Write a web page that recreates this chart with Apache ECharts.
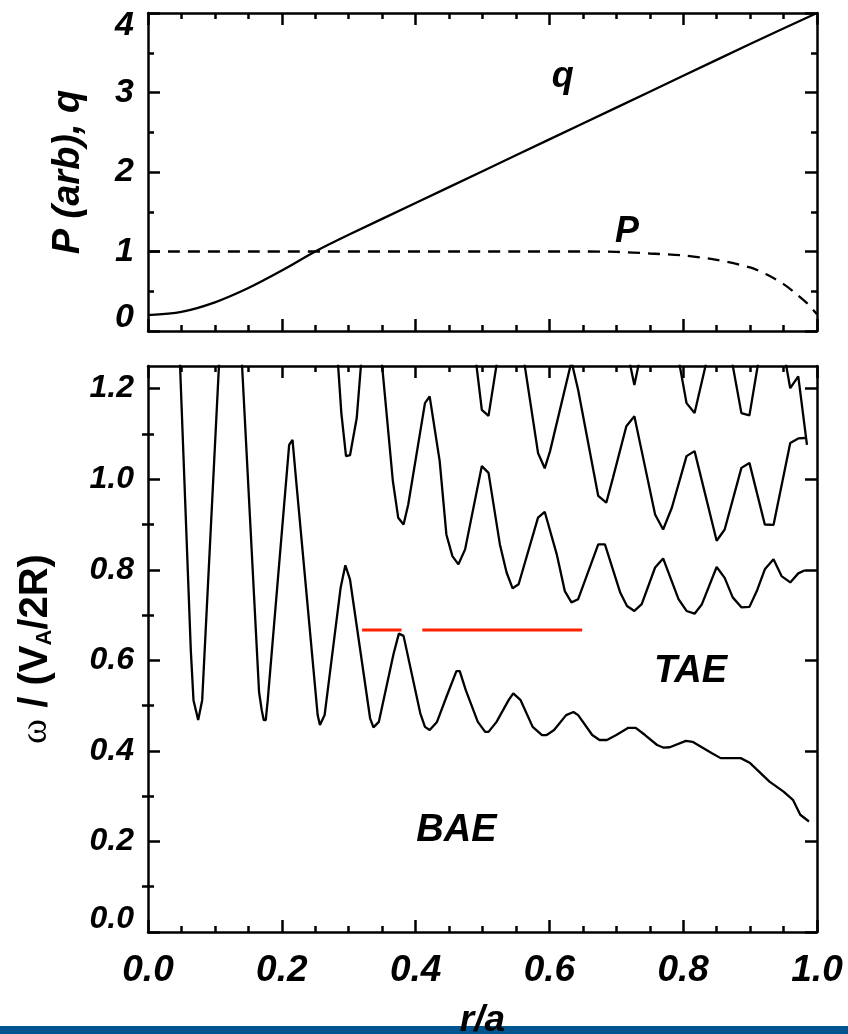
<!DOCTYPE html>
<html>
<head>
<meta charset="utf-8">
<script src="https://cdn.jsdelivr.net/npm/echarts@6/dist/echarts.min.js"></script>
<style>html,body{margin:0;padding:0;background:#fff}#c{width:848px;height:1034px}</style>
</head>
<body>
<div id="c"></div>
<script>
// ---------- DATA ----------
// Top panel: r/a, q and P (arb)
const qProfile = [[0,0.20],[0.05,0.24],[0.10,0.36],[0.15,0.54],[0.20,0.76],[0.25,1.00],[0.30,1.21],[0.40,1.61],[0.50,2.01],[0.60,2.41],[0.70,2.81],[0.80,3.21],[0.90,3.61],[1.00,4.00]];
const pProfile = [[0,1.0],[0.65,1.0],[0.70,0.995],[0.75,0.975],[0.80,0.95],[0.85,0.895],[0.90,0.80],[0.925,0.71],[0.95,0.59],[0.97,0.46],[0.985,0.35],[1.0,0.21]];
// Bottom panel: continuum branches (r/a, omega/(VA/2R))
const branchLow = [[0.040,1.56],[0.064,0.622],[0.068,0.512],[0.075,0.468],[0.081,0.512],[0.123,1.75],[0.166,0.53],[0.170,0.49],[0.173,0.468],[0.176,0.468],[0.179,0.512],[0.211,1.076],[0.216,1.087],[0.222,0.988],[0.2536,0.479],[0.257,0.457],[0.264,0.479],[0.288,0.761],[0.295,0.81],[0.302,0.778],[0.332,0.472],[0.337,0.452],[0.345,0.464],[0.367,0.614],[0.375,0.659],[0.382,0.654],[0.407,0.483],[0.414,0.453],[0.421,0.446],[0.432,0.464],[0.446,0.519],[0.461,0.576],[0.466,0.576],[0.475,0.534],[0.493,0.464],[0.504,0.442],[0.509,0.442],[0.521,0.464],[0.539,0.512],[0.546,0.527],[0.557,0.512],[0.575,0.453],[0.589,0.435],[0.596,0.435],[0.607,0.446],[0.625,0.479],[0.636,0.486],[0.643,0.479],[0.664,0.435],[0.675,0.424],[0.686,0.424],[0.700,0.435],[0.718,0.451],[0.729,0.451],[0.743,0.435],[0.761,0.413],[0.771,0.407],[0.780,0.408],[0.804,0.422],[0.814,0.420],[0.843,0.395],[0.856,0.384],[0.886,0.384],[0.900,0.373],[0.929,0.332],[0.950,0.310],[0.964,0.292],[0.975,0.259],[0.988,0.244]];
const branchC = [[0.281,1.32],[0.289,1.146],[0.296,1.051],[0.302,1.053],[0.312,1.135],[0.322,1.32]];
const branchD = [[0.345,1.33],[0.366,0.996],[0.374,0.915],[0.382,0.900],[0.389,0.944],[0.414,1.168],[0.421,1.183],[0.436,1.040],[0.446,0.878],[0.455,0.830],[0.464,0.812],[0.474,0.845],[0.499,1.029],[0.509,1.014],[0.526,0.856],[0.536,0.794],[0.545,0.759],[0.554,0.768],[0.583,0.915],[0.593,0.928],[0.611,0.834],[0.623,0.753],[0.633,0.728],[0.643,0.735],[0.673,0.856],[0.683,0.856],[0.706,0.749],[0.716,0.720],[0.727,0.709],[0.738,0.724],[0.758,0.805],[0.770,0.825],[0.793,0.735],[0.805,0.709],[0.817,0.703],[0.828,0.724],[0.850,0.806],[0.862,0.782],[0.874,0.739],[0.887,0.717],[0.899,0.718],[0.910,0.753],[0.922,0.801],[0.935,0.823],[0.947,0.786],[0.960,0.772],[0.972,0.792],[0.982,0.799]];
const branchE = [[0.487,1.30],[0.499,1.153],[0.509,1.140],[0.525,1.29]];
const branchF = [[0.555,1.33],[0.583,1.058],[0.593,1.024],[0.601,1.062],[0.633,1.26],[0.643,1.197],[0.673,0.963],[0.685,0.948],[0.695,1.003],[0.715,1.117],[0.727,1.139],[0.738,1.062],[0.758,0.922],[0.770,0.889],[0.783,0.937],[0.805,1.051],[0.817,1.062],[0.850,0.864],[0.862,0.889],[0.887,1.025],[0.899,1.036],[0.922,0.900],[0.935,0.899],[0.960,1.080],[0.972,1.090],[0.982,1.091]];
const branchG = [[0.714,1.30],[0.727,1.208],[0.740,1.30]];
const branchH = [[0.790,1.29],[0.805,1.168],[0.817,1.146],[0.838,1.28]];
const branchI = [[0.868,1.30],[0.887,1.146],[0.899,1.141],[0.917,1.30]];
const branchJ = [[0.948,1.30],[0.960,1.201],[0.972,1.227],[0.985,1.076]];
const gapMarks = [[[0.320,0.667],[0.379,0.667]],[[0.410,0.667],[0.649,0.667]]];
// Annotations
const topLabels = [{name:'q', value:[0.620,3.20]},{name:'P', value:[0.716,1.25]}];
const bottomLabels = [{name:'TAE', value:[0.811,0.575]},{name:'BAE', value:[0.461,0.225]}];
// Ticks
const xTicks = [0,0.2,0.4,0.6,0.8,1.0];
const topYTicks = [0,1,2,3,4];
const botYMajor = [0,0.2,0.4,0.6,0.8,1.0,1.2];
const botYMinor = [0.1,0.3,0.5,0.7,0.9,1.1];

// ---------- CHART ----------
const FONT = 'Liberation Sans';
const lineCol = '#000';
const axW = 2.5;
function frameAxis(extra){
  return Object.assign({
    type:'value', splitLine:{show:false},
    axisLine:{show:true, onZero:false, lineStyle:{color:lineCol,width:axW}},
    axisTick:{show:true, inside:true, length:12, lineStyle:{color:lineCol,width:axW}},
    minorTick:{show:false},
    axisLabel:{show:false}
  }, extra);
}
const chart = echarts.init(document.getElementById('c'), null, {renderer:'canvas'});
const grids = [
  {left:148, right:31, top:13, height:318, outerBoundsMode:'none', containLabel:false},
  {left:148, right:31, top:366, height:566, outerBoundsMode:'none', containLabel:false}
];
const xAxisCommon = {min:0, max:1, interval:0.2,
  minorTick:{show:true, splitNumber:4, length:6, lineStyle:{color:lineCol,width:axW}}};
const xAxes = [
  frameAxis(Object.assign({gridIndex:0, position:'bottom'}, xAxisCommon)),
  frameAxis(Object.assign({gridIndex:0, position:'top'}, xAxisCommon)),
  frameAxis(Object.assign({gridIndex:1, position:'bottom',
    axisLabel:{show:true, margin:20, color:'#000', fontFamily:FONT, fontWeight:'bold', fontStyle:'italic', fontSize:37,
      formatter:v=>v.toFixed(1), customValues:xTicks},
    name:'r/a', nameLocation:'middle', nameGap:70,
    nameTextStyle:{color:'#000', fontFamily:FONT, fontWeight:'bold', fontStyle:'italic', fontSize:37}
  }, xAxisCommon)),
  frameAxis(Object.assign({gridIndex:1, position:'top'}, xAxisCommon))
];
const topYCommon = {min:0, max:4, interval:1,
  minorTick:{show:true, splitNumber:2, length:6, lineStyle:{color:lineCol,width:axW}}};
const yAxes = [
  frameAxis(Object.assign({gridIndex:0, position:'left',
    axisLabel:{show:true, margin:14, color:'#000', fontFamily:FONT, fontWeight:'bold', fontStyle:'italic', fontSize:34,
      lineHeight:26, verticalAlignMaxLabel:'top', verticalAlignMinLabel:'bottom',
      customValues:topYTicks, formatter:v=>String(v)},
    name:'P (arb), q', nameLocation:'middle', nameGap:60, nameRotate:90,
    nameTextStyle:{color:'#000', fontFamily:FONT, fontWeight:'bold', fontStyle:'italic', fontSize:38}
  }, topYCommon)),
  frameAxis(Object.assign({gridIndex:0, position:'right'}, topYCommon)),
  frameAxis({gridIndex:1, position:'left', min:0, max:1.25,
    axisTick:{show:true, inside:true, length:12, customValues:botYMajor, lineStyle:{color:lineCol,width:axW}},
    axisLabel:{show:true, margin:14, color:'#000', fontFamily:FONT, fontWeight:'bold', fontStyle:'italic', fontSize:32,
      lineHeight:26, verticalAlignMinLabel:'bottom',
      customValues:botYMajor, formatter:v=>v.toFixed(1)},
    name:'{w|ω}{b| / (V}{s|A}{b|/2R)}', nameLocation:'middle', nameGap:92, nameRotate:90,
    nameTextStyle:{color:'#000', rich:{
      w:{fontFamily:'Liberation Serif', fontSize:38, color:'#000', lineHeight:40, verticalAlign:'middle'},
      b:{fontFamily:FONT, fontWeight:'bold', fontSize:40, color:'#000', lineHeight:40, verticalAlign:'middle'},
      s:{fontFamily:FONT, fontWeight:'bold', fontSize:22, color:'#000', lineHeight:20, verticalAlign:'bottom', padding:[14,0,0,0]}
    }}
  }),
  frameAxis({gridIndex:1, position:'right', min:0, max:1.25,
    axisTick:{show:true, inside:true, length:12, customValues:botYMajor, lineStyle:{color:lineCol,width:axW}}}),
  frameAxis({gridIndex:1, position:'left', min:0, max:1.25, axisLine:{show:false},
    axisTick:{show:true, inside:true, length:6, customValues:botYMinor, lineStyle:{color:lineCol,width:axW}}}),
  frameAxis({gridIndex:1, position:'right', min:0, max:1.25, axisLine:{show:false},
    axisTick:{show:true, inside:true, length:6, customValues:botYMinor, lineStyle:{color:lineCol,width:axW}}})
];
function curve(data, xi, yi, extra){
  return Object.assign({type:'line', xAxisIndex:xi, yAxisIndex:yi, data:data, showSymbol:false, symbol:'none',
    silent:true, animation:false, clip:true,
    lineStyle:{color:'#000', width:2.3}}, extra||{});
}
const labelStyle = {show:true, position:'inside', formatter:p=>p.name, color:'#000', opacity:1,
  fontFamily:FONT, fontWeight:'bold', fontStyle:'italic'};
const series = [
  curve(qProfile,0,0,{smooth:0.3}),
  curve(pProfile,0,0,{smooth:0.3, lineStyle:{color:'#000', width:2.3, type:[12,8]}}),
  curve(branchLow,2,2),
  curve(branchC,2,2), curve(branchD,2,2), curve(branchE,2,2), curve(branchF,2,2),
  curve(branchG,2,2), curve(branchH,2,2), curve(branchI,2,2), curve(branchJ,2,2),
  curve(gapMarks[0],2,2,{lineStyle:{color:'#ff2200', width:3}}),
  curve(gapMarks[1],2,2,{lineStyle:{color:'#ff2200', width:3}}),
  {type:'scatter', xAxisIndex:0, yAxisIndex:0, data:topLabels, symbolSize:0, silent:true, animation:false,
    itemStyle:{opacity:1}, label:Object.assign({fontSize:36}, labelStyle)},
  {type:'scatter', xAxisIndex:2, yAxisIndex:2, data:bottomLabels, symbolSize:0, silent:true, animation:false,
    itemStyle:{opacity:1}, label:Object.assign({fontSize:38}, labelStyle)}
];
chart.setOption({
  backgroundColor:'#fff',
  animation:false,
  grid:grids,
  xAxis:xAxes,
  yAxis:yAxes,
  series:series,
  graphic:[{type:'rect', z:-10, shape:{x:0, y:1026, width:848, height:8}, style:{fill:'#00558f'}}]
});
</script>
</body>
</html>
